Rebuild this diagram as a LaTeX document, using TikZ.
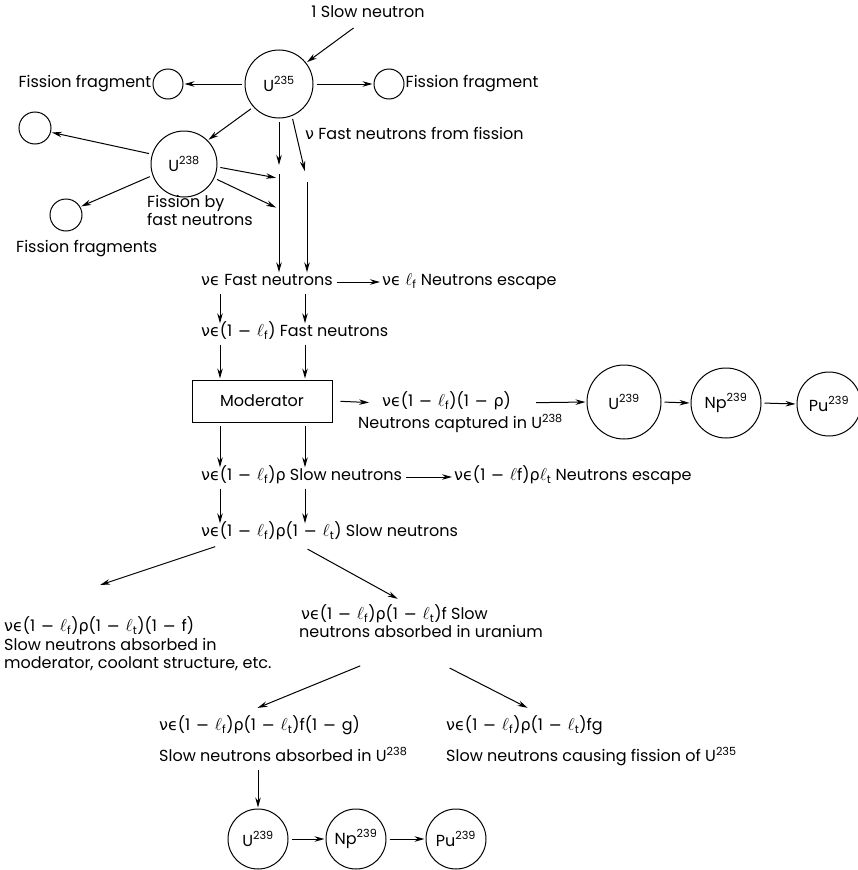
\documentclass[tikz,border=0pt]{standalone}
\usepackage{fontspec}
\setmainfont{Poppins}
\newfontfamily\grk{DejaVu Sans}
\usetikzlibrary{arrows.meta,positioning,calc}

\newcommand{\nuep}{{\grk νϵ}}
\newcommand{\ellsym}{$\ell$}
\newcommand{\ellf}{\ellsym\textsubscript{f}}
\newcommand{\ellt}{\ellsym\textsubscript{t}}
\newcommand{\rhoo}{{\grk ρ}}
\newcommand{\mns}{\hspace{0.35em}{\grk −}\hspace{0.35em}}

\begin{document}
\begin{tikzpicture}[x=1pt,y=-1pt,
  every node/.style={font=\fontsize{16}{18}\selectfont, inner sep=1pt},
  nucleus/.style={circle, draw, line width=1pt, inner sep=0pt, minimum size=#1},
  nucleus/.default=66pt,
  frag/.style={circle, draw, line width=1pt, inner sep=0pt, minimum size=30pt},
  lbl/.style={anchor=west, text height=11pt, text depth=4pt},
  note/.style={anchor=north west, align=left},
  flow/.style={-{Stealth[length=10pt,width=5.5pt]}, line width=1pt, shorten >=1pt, shorten <=3pt}]
  \useasboundingbox (0,0) rectangle (858,870);

  % first fission
  \node (slow) at (368,12) {1 Slow neutron};
  \node[nucleus=68pt] (u235) at (279,84) {U\textsuperscript{235}};
  \node[frag] (ffl) at (168,84) {};
  \node[frag] (ffr) at (389,84) {};
  \node[anchor=east] (ffltxt) at (ffl.west) {Fission fragment};
  \node[anchor=west] (ffrtxt) at (ffr.east) {Fission fragment};
  \node[nucleus] (u238) at (184,164) {U\textsuperscript{238}};
  \node[frag, minimum size=32pt] (fa) at (35,128) {};
  \node[frag, minimum size=32pt] (fb) at (66,215) {};
  \node[lbl] (fbtxt) at (15,249) {Fission fragments};
  \node[note] (fastfis) at (146,194) {Fission by\\fast neutrons};
  \node[lbl] (nufast) at (304,136) {{\grk ν} Fast neutrons from fission};
  \coordinate (jl) at (279,166);
  \coordinate (jr) at (305,172);
  \coordinate (hl1) at (277,178);
  \coordinate (hl2) at (277,208);
  \coordinate (cl) at (220,0);
  \coordinate (cr) at (305,0);

  % fast and slow neutron chain
  \node[lbl] (fast) at (200,282) {\nuep{} Fast neutrons};
  \node[lbl] (esc1) at (381,282) {\nuep{} \ellf{} Neutrons escape};
  \node[lbl] (fast2) at (200,333) {\nuep(1\mns\ellf) Fast neutrons};
  \node[draw, line width=1pt, minimum width=140pt, minimum height=42pt] (mod) at (262,401) {Moderator};
  \node[lbl] (cap) at (381,403) {\nuep(1\mns\ellf)(1\mns\rhoo)};
  \node[lbl] (captxt) at (357,425) {Neutrons captured in U\textsuperscript{238}};
  \node[nucleus=74pt] (u239a) at (624,402) {U\textsuperscript{239}};
  \node[nucleus=70pt] (np239a) at (726,403) {Np\textsuperscript{239}};
  \node[nucleus=64pt] (pu239a) at (829,404) {Pu\textsuperscript{239}};
  \node[lbl] (slow1) at (200,477) {\nuep(1\mns\ellf)\rhoo{} Slow neutrons};
  \node[lbl] (esc2) at (453,477) {\nuep(1\mns\ellsym f)\rhoo\ellt{} Neutrons escape};
  \node[lbl] (slow2) at (200,533) {\nuep(1\mns\ellf)\rhoo(1\mns\ellt) Slow neutrons};

  % absorption
  \node[lbl] (absm) at (3,628) {\nuep(1\mns\ellf)\rhoo(1\mns\ellt)(1\mns f)};
  \node[note] (absmtxt) at (3,637) {Slow neutrons absorbed in\\moderator, coolant structure, etc.};
  \node[lbl] (absu) at (300,616) {\nuep(1\mns\ellf)\rhoo(1\mns\ellt)f Slow};
  \node[lbl] (absutxt) at (298,634) {neutrons absorbed in uranium};
  \node[lbl] (u238abs) at (158,727) {\nuep(1\mns\ellf)\rhoo(1\mns\ellt)f(1\mns g)};
  \node[lbl] (u238txt) at (158,758) {Slow neutrons absorbed in U\textsuperscript{238}};
  \node[lbl] (fis) at (445,727) {\nuep(1\mns\ellf)\rhoo(1\mns\ellt)fg};
  \node[lbl] (fistxt) at (445,758) {Slow neutrons causing fission of U\textsuperscript{235}};
  \node[nucleus=60pt] (u239b) at (258,839) {U\textsuperscript{239}};
  \node[nucleus=60pt] (np239b) at (356,839) {Np\textsuperscript{239}};
  \node[nucleus=60pt] (pu239b) at (456,839) {Pu\textsuperscript{239}};

  % arrows
  \draw[flow] ([xshift=-12pt,yshift=-7pt]slow.south) -- (u235.38);
  \draw[flow] (u235.west) -- (ffl.east);
  \draw[flow] (u235.east) -- (ffr.west);
  \draw[flow] (u235.222) -- (u238.45);
  \draw[flow] (u238.163) -- (fa.-15);
  \draw[flow] (u238.200) -- (fb.30);
  \draw[flow] (u238.-5) -- (hl1);
  \draw[flow] (u238.-25) -- (hl2);
  \draw[flow] (u235.south) -- (jl);
  \draw[flow] (u235.-68) -- (jr);
  \draw[flow] ([yshift=-5pt]jl) -- (jl |- fast.north);
  \draw[flow] ([xshift=2pt,yshift=-7pt]jr) -- ([xshift=2pt]jr |- fast.north);
  \foreach \a/\b in {fast/fast2, fast2/mod, mod/slow1, slow1/slow2} {
    \draw[flow] (cl |- \a.south) -- (cl |- \b.north);
    \draw[flow] (cr |- \a.south) -- (cr |- \b.north);
  }
  \draw[flow] (fast.east) -- (esc1.west);
  \draw[flow, shorten <=8pt, shorten >=12pt] (mod.east) -- (cap.west);
  \draw[flow, shorten <=24pt] (cap.east) -- (u239a.west);
  \draw[flow] (u239a.east) -- (np239a.west);
  \draw[flow] (np239a.east) -- (pu239a.west);
  \draw[flow] (slow1.east) -- (esc2.west);
  \draw[flow] ([xshift=18pt,yshift=-4pt]slow2.south west) -- ([yshift=34pt]absm.north);
  \draw[flow] ([xshift=105pt,yshift=-6pt]slow2.south west) -- ([xshift=4pt,yshift=8pt]absu.north);
  \draw[flow] ([xshift=65pt,yshift=-22pt]absutxt.south west) -- ([xshift=-3pt,yshift=10pt]u238abs.north);
  \draw[flow] ([xshift=149pt,yshift=-24pt]absutxt.south west) -- ([xshift=4pt,yshift=10pt]fis.north);
  \draw[flow] (u239b.north |- u238txt.south) -- (u239b.north);
  \draw[flow] (u239b.east) -- (np239b.west);
  \draw[flow] (np239b.east) -- (pu239b.west);
\end{tikzpicture}
\end{document}
